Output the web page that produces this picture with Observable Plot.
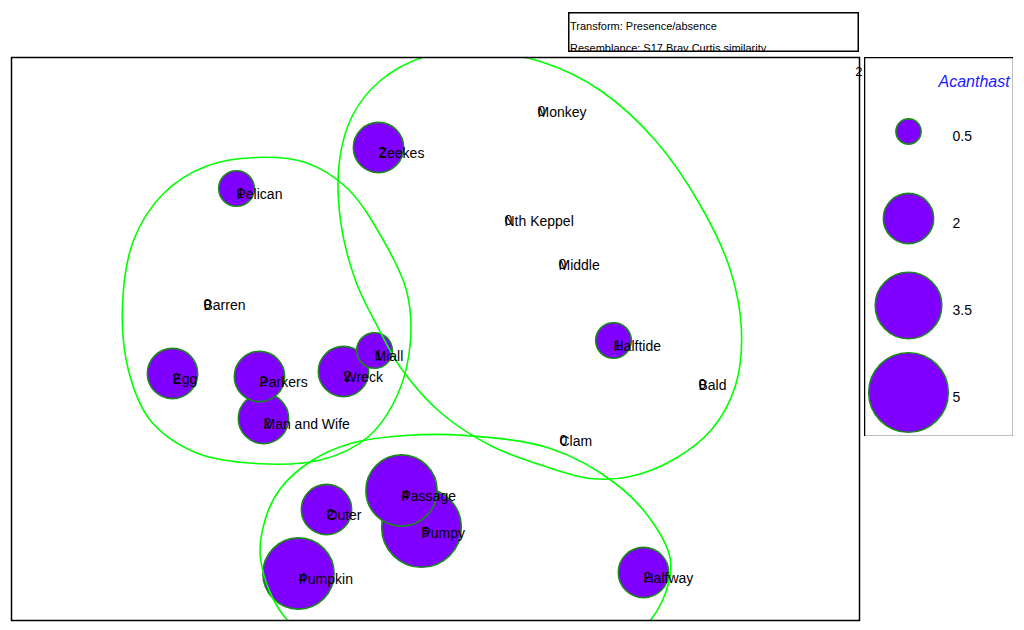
<!DOCTYPE html>
<html>
<head>
<meta charset="utf-8">
<script src="https://cdn.jsdelivr.net/npm/d3@7"></script>
<script src="https://cdn.jsdelivr.net/npm/@observablehq/plot@0.6"></script>
<style>
  body { margin: 0; background: #fff; font-family: "Liberation Sans", Arial, sans-serif; }
  #wrap { position: relative; width: 1024px; height: 630px; overflow: hidden; }
  #main { position: absolute; left: 0; top: 0; }
  #legend { position: absolute; left: 864px; top: 57px; }
  #title { position: absolute; left: 568px; top: 12px; }
</style>
</head>
<body>
<div id="wrap">
  <div id="main"></div>
  <div id="legend"></div>
  <div id="title"></div>
</div>
<script>
// MDS ordination (arbitrary units) and Acanthast values
const sites  = ["Monkey","Zeekes","Pelican","Nth Keppel","Middle","Barren","Halftide","Miall","Wreck","Egg","Man and Wife","Parkers","Bald","Clam","Pumpy","Passage","Outer","Pumpkin","Halfway"];
const mdsX   = [1.02, -0.57, -1.99, 0.69, 1.23, -2.32, 1.78, -0.61, -0.92, -2.63, -1.72, -1.76, 2.63, 1.24, -0.14, -0.34, -1.09, -1.37, 2.08];
const mdsY   = [2.32, 1.91, 1.50, 1.23, 0.79, 0.39, -0.02, -0.12, -0.33, -0.35, -0.80, -0.38, -0.41, -0.97, -1.89, -1.52, -1.71, -2.35, -2.34];
const acanth = [0, 2, 1, 0, 0, 0, 1, 1, 2, 2, 2, 2, 0, 0, 5, 4, 2, 4, 2];

// cluster contours
const clusterA_x = [-1.80,-1.30,-0.88,-0.52,-0.29,-0.25,-0.37,-0.67,-1.13,-1.80,-2.40,-2.85,-3.07,-3.13,-3.02,-2.72,-2.30];
const clusterA_y = [1.81,1.76,1.50,0.98,0.48,-0.02,-0.54,-0.98,-1.21,-1.25,-1.14,-0.82,-0.32,0.33,0.98,1.45,1.72];
const clusterB_x = [0.45,1.08,1.65,2.20,2.65,2.95,3.06,3.00,2.77,2.40,1.95,1.55,1.10,0.55,0.05,-0.35,-0.57,-0.80,-0.95,-0.96,-0.83,-0.55,-0.10];
const clusterB_y = [2.87,2.76,2.48,1.98,1.33,0.68,0.08,-0.47,-0.90,-1.20,-1.38,-1.40,-1.28,-1.07,-0.74,-0.29,0.10,0.58,1.18,1.78,2.23,2.58,2.82];
const clusterC_x = [0.30,1.15,1.80,2.18,2.35,2.27,2.05,1.45,0.25,-0.95,-1.52,-1.75,-1.70,-1.55,-1.25,-0.85,-0.30];
const clusterC_y = [-0.97,-1.10,-1.45,-1.85,-2.22,-2.62,-2.92,-3.22,-3.32,-3.17,-2.77,-2.20,-1.80,-1.50,-1.23,-1.05,-0.97];

const legendValues = [0.5, 2, 3.5, 5];
const legendLabels = ["0.5", "2", "3.5", "5"];
const legendTitle = "Acanthast";
const transformText = "Transform: Presence/absence";
const resemblanceText = "Resemblance: S17 Bray Curtis similarity";
const stressText = "2";

const FILL = "#7f00ff", RING = "#1a8a1a", CONTOUR = "#00ff00";
const rScale = {type: "sqrt", domain: [0, 5], range: [0, 39.8]};

const pts = sites.map((s, i) => ({site: s, x: mdsX[i], y: mdsY[i], v: acanth[i]}));
const mk = (xs, ys, g) => xs.map((x, i) => ({x, y: ys[i], g}));
const contours = [...mk(clusterA_x, clusterA_y, "A"), ...mk(clusterB_x, clusterB_y, "B"), ...mk(clusterC_x, clusterC_y, "C")];

const main = Plot.plot({
  width: 1024, height: 630,
  marginLeft: 11, marginRight: 165, marginTop: 57, marginBottom: 10,
  x: {domain: [-4.24, 4.24], axis: null},
  y: {domain: [-2.82, 2.81], axis: null},
  r: rScale,
  style: {fontFamily: "'Liberation Sans', Arial, sans-serif", fontSize: "14px", background: "white", overflow: "visible"},
  marks: [
    Plot.dot(pts.filter(d => d.v > 0), {x: "x", y: "y", r: "v", fill: FILL, stroke: RING, strokeWidth: 1.6}),
    Plot.line(contours, {x: "x", y: "y", z: "g", curve: "catmull-rom-closed", stroke: CONTOUR, strokeWidth: 1.6, clip: "frame"}),
    Plot.text(pts, {x: "x", y: "y", text: d => String(d.v), dy: 5, dx: 0, textAnchor: "start", fill: "black", fontSize: 14}),
    Plot.text(pts, {x: "x", y: "y", text: "site", dy: 6, dx: 0, textAnchor: "start", fill: "black", fontSize: 14}),
    Plot.frame({stroke: "black", strokeWidth: 1.5}),
    Plot.text([stressText], {frameAnchor: "top-right", text: d => d, dx: 3, dy: 9, textAnchor: "end", fontSize: 13})
  ]
});
document.getElementById("main").appendChild(main);

const leg = legendValues.map((v, i) => ({v, label: legendLabels[i]}));
const legend = Plot.plot({
  width: 149, height: 379,
  margin: 0,
  x: {domain: [0, 149], range: [0, 149], axis: null},
  y: {type: "point", domain: legendLabels, range: [73, 336], padding: 0, axis: null},
  r: rScale,
  style: {fontFamily: "'Liberation Sans', Arial, sans-serif", fontSize: "14px", background: "white", overflow: "hidden"},
  marks: [
    Plot.dot(leg, {x: () => 44, y: "label", r: "v", fill: FILL, stroke: RING, strokeWidth: 1.6}),
    Plot.text(leg, {x: () => 88, y: "label", text: "label", dy: 5, textAnchor: "start", fontSize: 14}),
    Plot.text([legendTitle], {x: () => 74, y: () => legendLabels[0], text: d => d, dy: -50, textAnchor: "start", fill: "#1a1aff", fontStyle: "italic", fontSize: 16}),
    Plot.frame({stroke: "black", strokeWidth: 1.5})
  ]
});
document.getElementById("legend").appendChild(legend);

// title box
const svgNS = "http://www.w3.org/2000/svg";
const t = document.createElementNS(svgNS, "svg");
t.setAttribute("width", 291); t.setAttribute("height", 40);
t.style.fontFamily = "'Liberation Sans', Arial, sans-serif";
t.innerHTML = `<rect x="0.75" y="0.75" width="289.5" height="38.5" fill="white" stroke="none"/>
<text x="2" y="18" font-size="11">${transformText}</text>
<text x="2" y="39.5" font-size="11">${resemblanceText}</text>
<rect x="0.75" y="0.75" width="289.5" height="38.5" fill="none" stroke="black" stroke-width="1.5"/>`;
document.getElementById("title").appendChild(t);
</script>
</body>
</html>
